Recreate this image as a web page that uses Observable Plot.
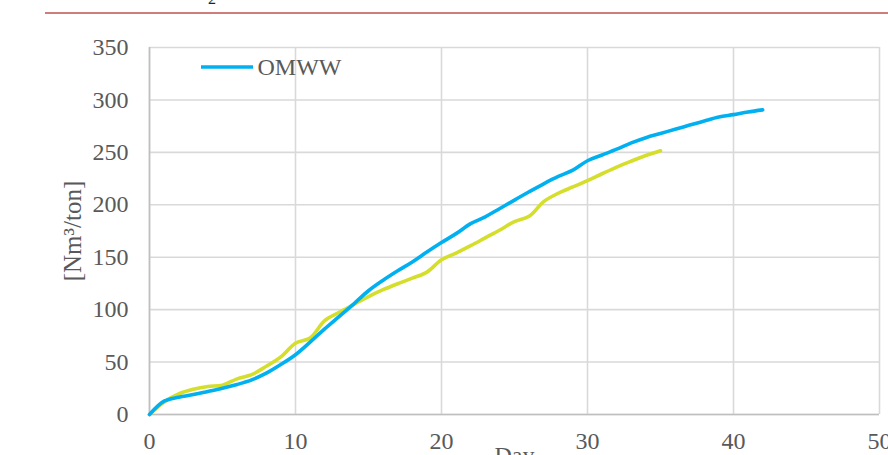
<!DOCTYPE html>
<html>
<head>
<meta charset="utf-8">
<script src="https://cdn.jsdelivr.net/npm/d3@7"></script>
<script src="https://cdn.jsdelivr.net/npm/@observablehq/plot@0.6"></script>
<style>
  html, body { margin: 0; padding: 0; background: #fff; }
  #chart { width: 888px; height: 455px; overflow: hidden; }
</style>
</head>
<body>
<div id="chart"></div>
<script>
const omwwDays = d3.range(0, 43);
const omwwValues = [0,12.7,16.5,19,22,25,28.6,33,39.4,47.7,57,69,81.7,93.5,105.6,118,128,137,145.5,155,164,172.5,182,188.5,196.5,204.5,212.4,220,227,233,242,247.5,253,259,264,268,272,276,280,283.7,286,288.5,290.5];
const otherDays = d3.range(0, 36);
const otherValues = [0,12,19.7,24,26.7,28,34,38,46,55,68,73,89.5,97.5,105,112.5,119,124.7,130,135.8,147.5,154,161,168.5,176,184,189,203,211,217,223,229.6,236,241.7,247,251.5];
const xTicks = [0, 10, 20, 30, 40, 50];
const yTicks = [0, 50, 100, 150, 200, 250, 300, 350];
const seriesName = "OMWW";
const yTitle = "[Nm³/ton]";
const xTitle = "Day";

const omww = omwwDays.map((d, i) => ({day: d, value: omwwValues[i]}));
const other = otherDays.map((d, i) => ({day: d, value: otherValues[i]}));

const font = "'Liberation Serif', 'Times New Roman', serif";
const textColor = "#595959";

const svg = Plot.plot({
  width: 888,
  height: 455,
  marginLeft: 149,
  marginRight: 9,
  marginTop: 47,
  marginBottom: 41,
  style: {fontFamily: font, fontSize: "24px", color: textColor, background: "#fff", overflow: "visible"},
  x: {domain: [0, 50], ticks: xTicks},
  y: {domain: [0, 350], ticks: yTicks},
  marks: [
    Plot.gridX(xTicks, {stroke: "#d9d9d9", strokeOpacity: 1, strokeWidth: 1.6}),
    Plot.gridY(yTicks, {stroke: "#d9d9d9", strokeOpacity: 1, strokeWidth: 1.6}),
    Plot.ruleX([0], {stroke: "#bfbfbf", strokeWidth: 1.6}),
    Plot.ruleY([0], {stroke: "#bfbfbf", strokeWidth: 1.6}),
    Plot.axisX(xTicks, {tickSize: 0, tickPadding: 17, fontSize: 24, fill: textColor, label: null}),
    Plot.axisY(yTicks, {tickSize: 0, tickPadding: 21, fontSize: 24, fill: textColor, label: null}),
    Plot.line(other, {x: "day", y: "value", stroke: "#d4de2b", strokeWidth: 3.6, curve: "catmull-rom"}),
    Plot.line(omww, {x: "day", y: "value", stroke: "#00b0f0", strokeWidth: 3.6, curve: "catmull-rom"}),
    Plot.text([yTitle], {frameAnchor: "left", dx: -77, rotate: -90, fontSize: 25, fill: textColor, textAnchor: "middle"}),
    Plot.text([xTitle], {frameAnchor: "bottom", dy: 31, lineAnchor: "top", fontSize: 24, fill: textColor}),
    Plot.text([seriesName], {frameAnchor: "top-left", dx: 108, dy: 20, textAnchor: "start", lineAnchor: "middle", fontSize: 24, fill: textColor})
  ]
});

const s = d3.select(svg);
// legend swatch
s.append("line").attr("x1", 201).attr("x2", 253).attr("y1", 67).attr("y2", 67)
  .attr("stroke", "#00b0f0").attr("stroke-width", 3.6);
// top rule of the page above the chart
s.append("line").attr("x1", 45).attr("x2", 888).attr("y1", 13).attr("y2", 13)
  .attr("stroke", "#cf7c7c").attr("stroke-width", 2);
s.append("text").attr("x", 212).attr("y", 4).attr("text-anchor", "middle")
  .attr("font-family", font).attr("font-size", 16).attr("fill", "#222").text("2");

document.getElementById("chart").appendChild(svg);
</script>
</body>
</html>
